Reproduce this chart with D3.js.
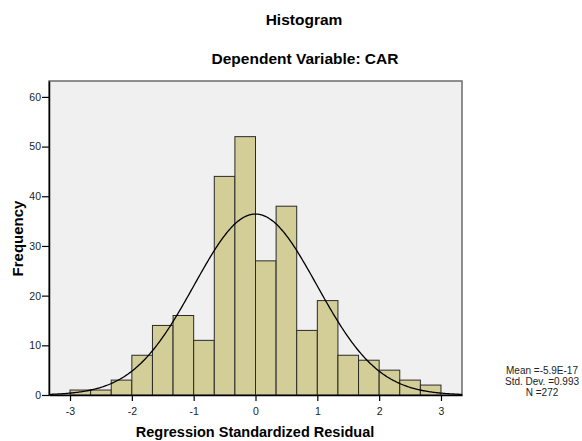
<!DOCTYPE html>
<html>
<head>
<meta charset="utf-8">
<script src="https://cdn.jsdelivr.net/npm/d3@7"></script>
<style>
  body { margin: 0; background: #fff; }
  text { font-family: "Liberation Sans", Arial, sans-serif; }
</style>
</head>
<body>
<div id="chart"></div>
<script>
// bin edges (lower) and counts, bin width 1/3
const binStarts = [-3, -8/3, -7/3, -2, -5/3, -4/3, -1, -2/3, -1/3, 0, 1/3, 2/3, 1, 4/3, 5/3, 2, 7/3, 8/3]
const counts = [1, 1, 3, 8, 14, 16, 11, 44, 52, 27, 38, 13, 19, 8, 7, 5, 3, 2]
const binWidth = 1 / 3
const xTicks = [-3, -2, -1, 0, 1, 2, 3]
const yTicks = [0, 10, 20, 30, 40, 50, 60]
const statLines = ["Mean =-5.9E-17", "Std. Dev. =0.993", "N =272"]
const meanVal = -5.9e-17
const sdVal = 0.993
const nVal = 272

const W = 582, H = 441
const MARGIN = { TOP: 81, BOTTOM: 46, LEFT: 49, RIGHT: 120 }
const WIDTH = W - MARGIN.LEFT - MARGIN.RIGHT
const HEIGHT = H - MARGIN.TOP - MARGIN.BOTTOM

const svg = d3.select("#chart").append("svg")
    .attr("width", W)
    .attr("height", H)

const g = svg.append("g")
    .attr("transform", `translate(${MARGIN.LEFT}, ${MARGIN.TOP})`)

const x = d3.scaleLinear().domain([-3.34, 3.34]).range([0, WIDTH])
const y = d3.scaleLinear().domain([0, 63.2]).range([HEIGHT, 0])

// plot background + frame
g.append("rect")
    .attr("x", 0).attr("y", 0)
    .attr("width", WIDTH).attr("height", HEIGHT)
    .attr("fill", "#f0f0f0")
    .attr("stroke", "#6b6b6b")
    .attr("stroke-width", 1.5)

// bars
g.selectAll("rect.bar")
    .data(counts)
    .enter().append("rect")
    .attr("class", "bar")
    .attr("x", (d, i) => x(binStarts[i]))
    .attr("y", d => y(d))
    .attr("width", (d, i) => x(binStarts[i] + binWidth) - x(binStarts[i]))
    .attr("height", d => HEIGHT - y(d))
    .attr("fill", "#d3ce97")
    .attr("stroke", "#2a2a2a")
    .attr("stroke-width", 1)

// normal curve from the fitted stats
const curvePts = d3.range(-3.34, 3.3401, 0.02)
const scaleK = nVal * binWidth / (sdVal * Math.sqrt(2 * Math.PI))
const line = d3.line()
    .x(d => x(d))
    .y(d => y(scaleK * Math.exp(-0.5 * Math.pow((d - meanVal) / sdVal, 2))))
    .curve(d3.curveBasis)

g.append("path")
    .datum(curvePts)
    .attr("d", line)
    .attr("fill", "none")
    .attr("stroke", "#000")
    .attr("stroke-width", 1.3)

// axes
const xAxis = g.append("g")
    .attr("transform", `translate(0, ${HEIGHT})`)
    .call(d3.axisBottom(x).tickValues(xTicks).tickSize(6).tickSizeOuter(0).tickFormat(d => String(d)))
const yAxis = g.append("g")
    .call(d3.axisLeft(y).tickValues(yTicks).tickSize(7).tickSizeOuter(0).tickFormat(d => String(d)))

for (const ax of [xAxis, yAxis]) {
    ax.select(".domain").attr("stroke", "#000").attr("stroke-width", 1.5)
    ax.selectAll(".tick line").attr("stroke", "#000").attr("stroke-width", 1.2)
    ax.selectAll(".tick text")
        .attr("font-size", 10.5)
        .attr("fill", "#222")
        .style("font-family", "Liberation Sans, Arial, sans-serif")
}
xAxis.selectAll(".tick text").attr("dy", null).attr("y", 20)
yAxis.selectAll(".tick text").attr("x", -8)

// titles
svg.append("text")
    .attr("x", 304).attr("y", 25)
    .attr("text-anchor", "middle")
    .attr("font-size", 15.5).attr("font-weight", "bold")
    .text("Histogram")

svg.append("text")
    .attr("x", 305).attr("y", 63.5)
    .attr("text-anchor", "middle")
    .attr("font-size", 15.5).attr("font-weight", "bold")
    .text("Dependent Variable: CAR")

svg.append("text")
    .attr("x", 255).attr("y", 436.5)
    .attr("text-anchor", "middle")
    .attr("font-size", 14.5).attr("font-weight", "bold")
    .text("Regression Standardized Residual")

svg.append("text")
    .attr("transform", `translate(23, 238.5) rotate(-90)`)
    .attr("text-anchor", "middle")
    .attr("font-size", 15).attr("font-weight", "bold")
    .text("Frequency")

// stats box
svg.selectAll("text.stat")
    .data(statLines)
    .enter().append("text")
    .attr("class", "stat")
    .attr("x", 542)
    .attr("y", (d, i) => 374 + i * 11)
    .attr("text-anchor", "middle")
    .attr("font-size", 10)
    .attr("fill", "#222")
    .text(d => d)
</script>
</body>
</html>
